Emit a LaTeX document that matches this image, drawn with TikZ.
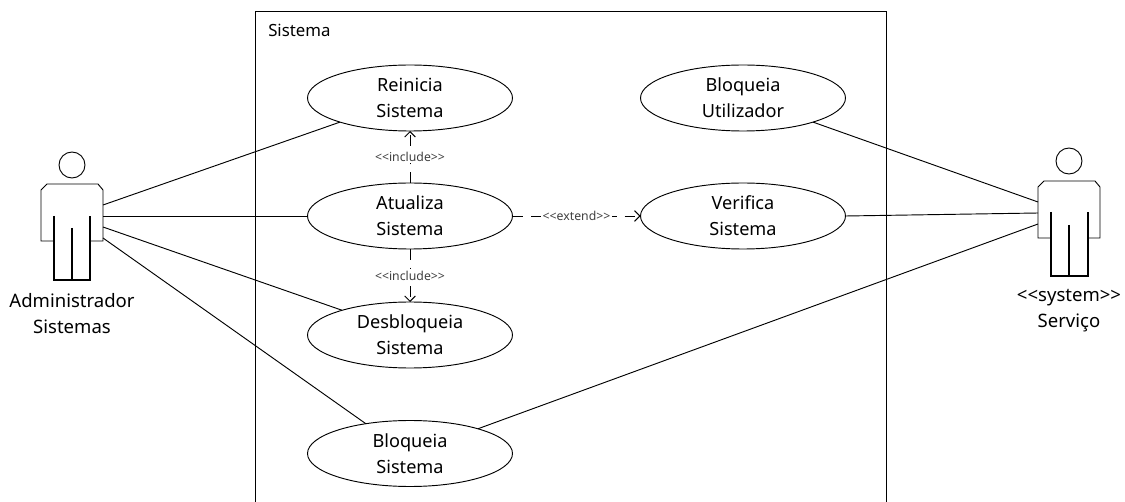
\documentclass[tikz,border=0pt]{standalone}
\usepackage{fontspec}
\setmainfont{Noto Sans}
\usetikzlibrary{arrows.meta,shapes.geometric}
\tikzset{
  usecase/.style={draw=black,line width=0.7pt,ellipse,minimum width=153.75pt,minimum height=49.5pt,inner sep=0pt,outer sep=0pt,align=center,font=\fontsize{13.6}{19.5}\selectfont},
  assoc/.style={draw=black,line width=0.7pt},
  dep/.style={draw=black,line width=0.7pt,dash pattern=on 8pt off 6pt,-{Straight Barb[length=4pt,width=8pt]}},
  deplabel/.style={fill=white,inner sep=1pt,font=\fontsize{9.2}{11}\selectfont,text=black!75},
  actorline/.style={draw=black,line width=0.7pt},
  actorthick/.style={draw=black,line width=0.85pt},
  actorname/.style={align=center,font=\fontsize{13.9}{19.5}\selectfont,inner sep=0pt},
  head/.style={draw=black,line width=0.7pt,circle,minimum size=19.5pt,inner sep=0pt},
  sysbox/.style={draw=black,line width=0.7pt}
}
\begin{document}
\begin{tikzpicture}[x=0.75pt,y=-0.75pt]
\useasboundingbox (0,0) rectangle (1125,502);
% system frame
\draw[sysbox] (255,502) -- (255,11) -- (886,11) -- (886,502);
\node[anchor=west,inner sep=0pt,font=\fontsize{12.6}{14}\selectfont] (syslabel) at (268,30) {Sistema};
% use cases
\node[usecase] (reinicia) at (410,98) {Reinicia\\Sistema};
\node[usecase] (atualiza) at (410,216) {Atualiza\\Sistema};
\node[usecase] (desbloq) at (410,335) {Desbloqueia\\Sistema};
\node[usecase] (blosis) at (410,453.5) {Bloqueia\\Sistema};
\node[usecase] (blouti) at (743,98) {Bloqueia\\Utilizador};
\node[usecase] (verifica) at (743,216) {Verifica\\Sistema};
% actor 1
\node[head] (headA) at (72,165) {};
\draw[actorline] (54,241) -- (41,241) -- (41,190) -- (47,184) -- (98,184) -- (103,190) -- (103,241) -- (90,241);
\draw[actorthick] (54,216) -- (54,280) -- (90,280) -- (90,216) (72,228) -- (72,280);
\node[actorname] (nameA) at (72,314) {Administrador\\Sistemas};
\coordinate (a1) at (103,205);
\coordinate (a2) at (103,216);
\coordinate (a3) at (103,227);
\coordinate (a4) at (103,238);
% actor 2
\node[head] (headB) at (1069,161) {};
\draw[actorline] (1051,238) -- (1038,238) -- (1038,187) -- (1044,181) -- (1095,181) -- (1100,187) -- (1100,238) -- (1088,238);
\draw[actorthick] (1051,212) -- (1051,276) -- (1088,276) -- (1088,212) (1069,225) -- (1069,276);
\node[actorname] (nameB) at (1069,311) {<{}<system>{}>\\Serviço};
\coordinate (b1) at (1038,202);
\coordinate (b2) at (1038,213);
\coordinate (b3) at (1038,224);
% associations
\draw[assoc] (a1) -- (reinicia.199);
\draw[assoc] (a2) -- (atualiza.west);
\draw[assoc] (a3) -- (desbloq.160);
\draw[assoc] (a4) -- (blosis.146);
\draw[assoc] (blouti.-19) -- (b1);
\draw[assoc] (verifica.east) -- (b2);
\draw[assoc] (blosis.20) -- (b3);
% dependencies
\draw[dep] (atualiza.north) -- node[deplabel,pos=0.5] (l1) {<{}<include>{}>} (reinicia.south);
\draw[dep] (atualiza.south) -- node[deplabel,pos=0.5] (l2) {<{}<include>{}>} (desbloq.north);
\draw[dep] (atualiza.east) -- node[deplabel,pos=0.5] (l3) {<{}<extend>{}>} (verifica.west);
\end{tikzpicture}
\end{document}
